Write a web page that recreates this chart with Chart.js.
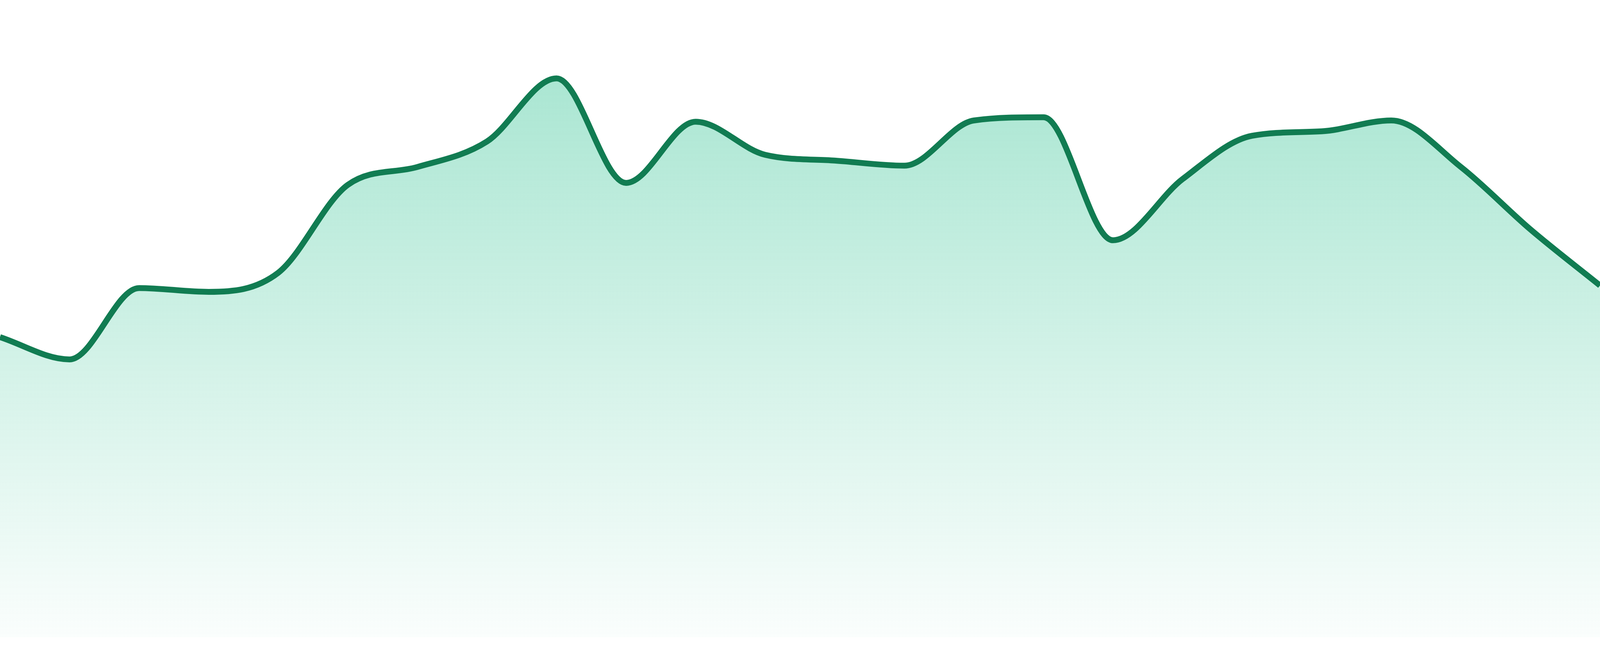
<!DOCTYPE html>
<html>
<head>
<meta charset="utf-8">
<script src="https://cdn.jsdelivr.net/npm/chart.js@4"></script>
<style>
  html, body { margin: 0; padding: 0; background: #ffffff; overflow: hidden; }
  #wrap { position: relative; width: 100vw; height: 100vh; }
</style>
</head>
<body>
<div id="wrap"><canvas id="area"></canvas></div>
<script>
// categories along the x axis
var labels = ["00:00", "01:00", "02:00", "03:00", "04:00", "05:00", "06:00", "07:00",
              "08:00", "09:00", "10:00", "11:00", "12:00", "13:00", "14:00", "15:00",
              "16:00", "17:00", "18:00", "19:00", "20:00", "21:00", "22:00", "23:00"];

// series values
var values = [47.1, 43.6, 54.8, 54.2, 57.2, 71.0, 73.8, 77.8,
              87.7, 71.3, 80.9, 75.7, 74.8, 74.0, 81.1, 81.6,
              62.3, 71.9, 78.7, 79.4, 81.1, 73.8, 64.0, 55.2];

var yMin = 0;
var yMax = 100;

const ctx = document.getElementById('area');

function fillGradient(context) {
    const chart = context.chart;
    const area = chart.chartArea;
    if (!area) return 'rgba(16, 185, 129, 0.2)';
    const g = chart.ctx.createLinearGradient(0, area.top, 0, area.bottom);
    g.addColorStop(0, 'rgba(16, 185, 129, 0.40)');
    g.addColorStop(1, 'rgba(16, 185, 129, 0.02)');
    return g;
}

new Chart(ctx, {
    type: 'line',
    data: {
        labels: labels,
        datasets: [{
            data: values,
            borderColor: '#117c52',
            borderWidth: 15,
            backgroundColor: fillGradient,
            fill: 'start',
            cubicInterpolationMode: 'monotone',
            pointRadius: 0,
            pointHoverRadius: 0
        }]
    },
    options: {
        responsive: true,
        maintainAspectRatio: false,
        animation: false,
        layout: { padding: { top: 0, bottom: 48, left: 0, right: 0 } },
        plugins: {
            legend: { display: false },
            tooltip: { enabled: false }
        },
        scales: {
            x: { display: false, offset: false },
            y: { display: false, min: yMin, max: yMax }
        }
    }
});
</script>
</body>
</html>
